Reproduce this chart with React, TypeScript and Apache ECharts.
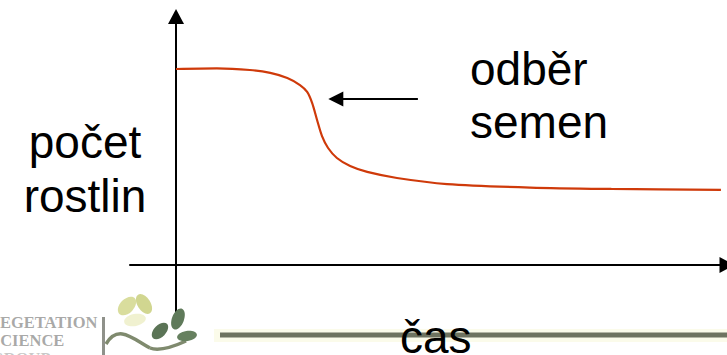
import React, { useEffect, useRef } from "react";
import * as echarts from "echarts";

// curve: time (x) vs. number of plants (y)
const times = [0, 7.4, 13.4, 17.1, 20.2, 22.5, 23.8, 24.7, 25.6, 26.5, 27.6, 29.2, 31.6, 34.7, 40.1, 49.2, 64.3, 79, 98.9];
const counts = [100, 100.3, 99.5, 98, 95.4, 91.8, 88.3, 82.7, 74, 65.8, 59.7, 54.6, 50.5, 47.5, 44.4, 41.3, 39.5, 38.8, 38.3];

// annotation arrow (data coordinates)
const arrowFrom = [43.9, 84.7];
const arrowTo = [29.0, 84.7];

const yLabelLines = ["počet", "rostlin"];
const noteLines = ["odběr", "semen"];
const xLabel = "čas";
const logoLines = ["VEGETATION", "SCIENCE", "GROUP"];

const X_MIN = -8.35;
const X_MAX = 100;
const Y_MIN = -23.98;
const Y_MAX = 126.8;

export default function App() {
  const ref = useRef<HTMLDivElement>(null);
  useEffect(() => {
    if (!ref.current) return;
    const chart = echarts.init(ref.current, null, { renderer: "svg" });
    const font = "'Liberation Sans', Arial, sans-serif";
    const big = { fontSize: 46, fontFamily: font, fill: "#000" };
    const logoFont = { fontSize: 16.5, fontWeight: "bold", fontFamily: "'Liberation Serif', serif", align: "left", verticalAlign: "middle" };
    const data = times.map((t, i) => [t, counts[i]]);
    chart.setOption({
      animation: false,
      backgroundColor: "#fff",
      grid: { left: 130, right: 0, top: 16.5, bottom: 43, containLabel: false },
      xAxis: {
        type: "value",
        min: X_MIN,
        max: X_MAX,
        axisLine: {
          onZero: true,
          lineStyle: { color: "#000", width: 2 },
          symbol: ["none", "triangle"],
          symbolSize: [16, 15],
        },
        axisTick: { show: false },
        axisLabel: { show: false },
        splitLine: { show: false },
      },
      yAxis: {
        type: "value",
        min: Y_MIN,
        max: Y_MAX,
        axisLine: {
          onZero: true,
          lineStyle: { color: "#000", width: 2 },
          symbol: ["none", "triangle"],
          symbolSize: [16, 15],
        },
        axisTick: { show: false },
        axisLabel: { show: false },
        splitLine: { show: false },
      },
      series: [
        {
          type: "line",
          data,
          smooth: 0.3,
          showSymbol: false,
          lineStyle: { color: "#cf3a0a", width: 2.2 },
          z: 3,
          markLine: {
            silent: true,
            symbol: ["none", "triangle"],
            symbolSize: [15, 15],
            label: { show: false },
            lineStyle: { color: "#000", width: 2, type: "solid" },
            data: [[{ coord: arrowFrom }, { coord: arrowTo }]],
          },
        },
      ],
      graphic: [
        // light band and olive bar at bottom
        { type: "rect", shape: { x: 214, y: 329, width: 520, height: 13 }, style: { fill: "#fbfbea" }, z: 1 },
        { type: "rect", shape: { x: 220, y: 332.5, width: 510, height: 5 }, style: { fill: "#6e7360" }, z: 2 },
        // texts
        { type: "text", x: 85, y: 142, style: { ...big, text: yLabelLines[0], align: "center", verticalAlign: "middle" }, z: 10 },
        { type: "text", x: 85, y: 196, style: { ...big, text: yLabelLines[1], align: "center", verticalAlign: "middle" }, z: 10 },
        { type: "text", x: 470, y: 69, style: { ...big, text: noteLines[0], align: "left", verticalAlign: "middle" }, z: 10 },
        { type: "text", x: 470, y: 122, style: { ...big, text: noteLines[1], align: "left", verticalAlign: "middle" }, z: 10 },
        { type: "text", x: 400, y: 337, style: { ...big, text: xLabel, align: "left", verticalAlign: "middle" }, z: 10 },
        // logo text
        { type: "text", x: -12, y: 322, style: { ...logoFont, text: logoLines[0], fill: "#9a9a98", opacity: 0.85 }, z: 5 },
        { type: "text", x: -9, y: 340, style: { ...logoFont, text: logoLines[1], fill: "#9a9a98", opacity: 0.85 }, z: 5 },
        { type: "text", x: -9, y: 358, style: { ...logoFont, text: logoLines[2], fill: "#b0b0ae", opacity: 0.7 }, z: 5 },
        { type: "rect", shape: { x: 102, y: 317, width: 3, height: 40 }, style: { fill: "#8f918a" }, z: 5 },
        // plant logo: yellow-green leaves
        { type: "ellipse", x: 127, y: 306, rotation: 0.8, shape: { cx: 0, cy: 0, rx: 11, ry: 7 }, style: { fill: "#d0d584", opacity: 0.8 }, z: 4 },
        { type: "ellipse", x: 144, y: 304, rotation: -1.0, shape: { cx: 0, cy: 0, rx: 11, ry: 6.5 }, style: { fill: "#c6cc74", opacity: 0.8 }, z: 4 },
        { type: "ellipse", x: 135, y: 320, rotation: 0.2, shape: { cx: 0, cy: 0, rx: 11, ry: 6 }, style: { fill: "#eceec4", opacity: 0.8 }, z: 4 },
        // stem
        {
          type: "bezierCurve",
          shape: { x1: 106, y1: 344, x2: 150, y2: 348, cpx1: 118, cpy1: 324, cpx2: 132, cpy2: 338 },
          style: { stroke: "#7f8a6e", lineWidth: 3.5, fill: "none" },
          z: 4,
        },
        {
          type: "bezierCurve",
          shape: { x1: 150, y1: 348, x2: 186, y2: 341, cpx1: 160, cpy1: 352, cpx2: 175, cpy2: 346 },
          style: { stroke: "#7f8a6e", lineWidth: 3.5, fill: "none" },
          z: 4,
        },
        // dark green leaves
        { type: "ellipse", x: 178, y: 319, rotation: 1.2, shape: { cx: 0, cy: 0, rx: 11, ry: 6 }, style: { fill: "#5f7a5a" }, z: 4 },
        { type: "ellipse", x: 160, y: 331, rotation: 0.8, shape: { cx: 0, cy: 0, rx: 10, ry: 6 }, style: { fill: "#5b7456" }, z: 4 },
        { type: "ellipse", x: 187, y: 336, rotation: 0.15, shape: { cx: 0, cy: 0, rx: 10, ry: 5 }, style: { fill: "#66805f" }, z: 4 },
      ],
    });
    return () => chart.dispose();
  }, []);
  return <div ref={ref} style={{ position: "fixed", left: 0, top: 0, width: 727, height: 355 }} />;
}
